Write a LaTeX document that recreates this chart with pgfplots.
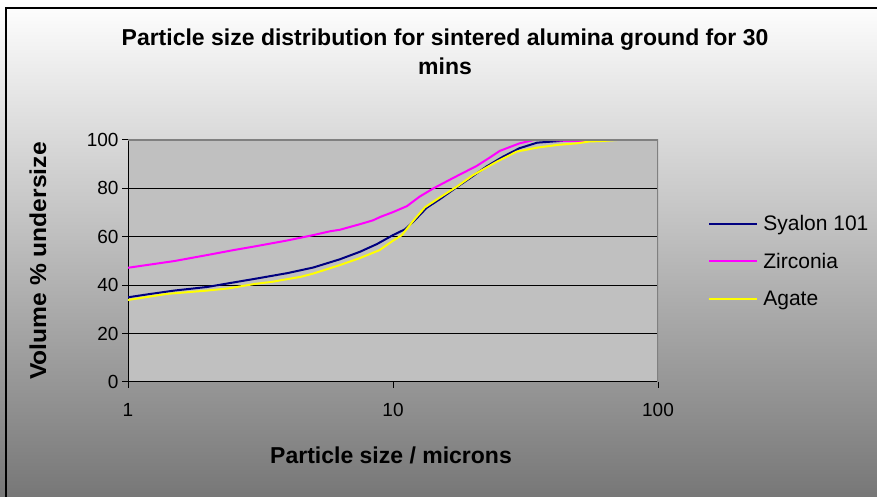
\documentclass[border=0pt]{standalone}
\usepackage{pgfplots}
\pgfplotsset{compat=1.18}
\usepackage{fontspec}
\setmainfont{Liberation Sans}
\definecolor{plotbg}{HTML}{C0C0C0}
\definecolor{navyline}{HTML}{000080}
\definecolor{magline}{HTML}{FF00FF}
\definecolor{yelline}{HTML}{FFFF00}
\definecolor{bgmid}{HTML}{D0D0D0}
\definecolor{bgbot}{HTML}{777777}
\begin{document}
\begin{tikzpicture}[x=1pt,y=1pt]
\useasboundingbox (0,0) rectangle (877,497);
\shade[top color=white, middle color=bgmid, bottom color=bgbot] (0,0) rectangle (877,497);
\draw[line width=2pt, black] (6,0) -- (6,489) -- (877,489);
\begin{axis}[
  at={(128pt,115pt)}, anchor=south west,
  width=530pt, height=242pt, scale only axis,
  xmode=log, xmin=1, xmax=100, ymin=0, ymax=100,
  xtick={1,10,100}, xticklabels={1,10,100},
  ytick={0,20,40,60,80,100},
  xminorticks=false, yminorticks=false,
  axis x line*=bottom, axis y line*=left,
  axis line style={black, line width=1pt, -},
  axis background/.style={fill=plotbg},
  ymajorgrids, grid style={black, line width=1pt},
  tick align=outside, major tick length=6pt,
  tick style={black, line width=1pt},
  /pgf/number format/assume math mode=true,
  ticklabel style={font=\fontsize{19}{22}\selectfont},
  xticklabel style={yshift=-12pt},
  yticklabel style={xshift=0pt},
  legend style={at={(rel axis cs:1.089,0.5)}, anchor=west, draw=none, fill=none,
    font=\fontsize{21}{25}\selectfont, row sep=17pt},
  legend cell align=left,
  legend image code/.code={\draw[#1, line width=2pt] (0pt,0pt) -- (48pt,0pt);},
]
\addplot[navyline, line width=2pt] coordinates {
(1,35.0) (1.2,36.3) (1.5,37.8) (2,39.3) (2.4,40.8) (3,42.6) (4,45.0) (5,47.3)
(6.3,50.7) (7.5,53.8) (8.7,57.0) (10,60.7) (11.1,63.1) (12,66.5) (13.4,72.0)
(15,75.5) (17.4,80.5) (19.5,84.2) (22.5,89) (26,93.1) (30,96.6) (35,98.9)
(44,99.7) (55,99.8) (62,100) (70,100)};
\addlegendentry{\hspace{3pt}Syalon 101}
\addplot[magline, line width=2pt] coordinates {
(1,47.2) (1.5,50.0) (2,52.5) (2.5,54.5) (3,56) (4,58.5) (5,60.7) (5.8,62.3)
(6.3,62.9) (7.5,65.2) (8.4,66.8) (9,68.3) (10,70.2) (11.3,72.7) (12.6,76.6)
(14.2,80) (17,84.5) (20.7,89.3) (23,92.5) (25.3,95.5) (30,98.6) (34,100)
(40,100) (45,99.6) (55,99.6) (62,100) (70,100)};
\addlegendentry{\hspace{3pt}Zirconia}
\addplot[yelline, line width=2pt] coordinates {
(1,33.9) (1.4,36.4) (2,37.8) (2.4,38.7) (3,40.5) (3.5,41.4) (4.5,43.5) (5,44.8)
(6.3,48.3) (7.5,51.2) (8.9,54.5) (10,58.4) (10.8,60.7) (11.4,63.9) (12,67.0)
(13.2,72.2) (15,76.2) (17.4,80.7) (20,85.4) (24.6,91) (29.3,95.2) (34.8,96.8)
(42,98) (49.3,98.6) (55.4,99.4) (62,99.6) (70,100)};
\addlegendentry{\hspace{3pt}Agate}
\draw[gray, line width=1.5pt] (rel axis cs:0,1) -- (rel axis cs:1,1) -- (rel axis cs:1,0);
\end{axis}
\node[font=\bfseries\fontsize{23}{29}\selectfont, align=center] at (445,445)
  {Particle size distribution for sintered alumina ground for 30\\mins};
\node[font=\bfseries\fontsize{23}{26}\selectfont] at (391,42) {Particle size / microns};
\node[font=\bfseries\fontsize{23}{26}\selectfont, rotate=90] at (38,236) {\scalebox{1.07}[1]{Volume \% undersize}};
\end{tikzpicture}
\end{document}
